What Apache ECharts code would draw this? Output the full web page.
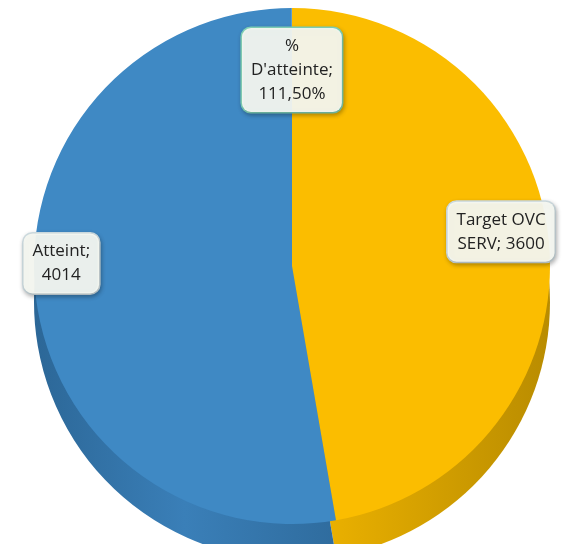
<!DOCTYPE html>
<html>
<head>
<meta charset="utf-8">
<script src="https://cdn.jsdelivr.net/npm/echarts@6/dist/echarts.min.js"></script>
<style>
  html, body { margin: 0; padding: 0; background: #fff; }
  #chart { width: 570px; height: 544px; }
</style>
</head>
<body>
<div id="chart"></div>
<script>
// données du graphique
const categories = ['Target OVC SERV', 'Atteint', "% D'atteinte"]
const values = [3600, 4014, 1.115]

const topColors = ['#fbbd00', '#3f89c4', '#3f89c4']
const sideColors = [
  new echarts.graphic.LinearGradient(0, 0, 1, 0, [
    { offset: 0, color: '#f2b600' }, { offset: 1, color: '#b98c00' }
  ]),
  new echarts.graphic.LinearGradient(0, 0, 1, 0, [
    { offset: 0, color: '#2c6797' }, { offset: 0.5, color: '#3a7fb8' }, { offset: 1, color: '#2f6c9e' }
  ]),
  '#2f6c9e'
]

const cx = 292, cy = 266, R = 258
// facteur radial + décalage pour placer les étiquettes
const labelFactor = [1.62, 1.8, 1.5]
const labelShift = [[-4, -16], [6, -23], [0, 2]]

function fmt(name, v) {
  if (name.charAt(0) === '%') {
    return '%\nD\'atteinte;\n' + (v * 100).toFixed(2).replace('.', ',') + '%'
  }
  if (name === 'Target OVC SERV') return 'Target OVC\nSERV; ' + v
  return name + ';\n' + v
}

const chart = echarts.init(document.getElementById('chart'))

chart.setOption({
  backgroundColor: '#fff',
  animation: false,
  series: [
    {
      // épaisseur (côté du camembert)
      type: 'pie',
      silent: true,
      startAngle: 90,
      clockwise: true,
      center: [cx, cy + 36],
      radius: R,
      label: { show: false },
      labelLine: { show: false },
      data: categories.map((c, i) => ({
        name: c,
        value: values[i],
        itemStyle: { color: sideColors[i] }
      }))
    },
    {
      type: 'pie',
      startAngle: 90,
      clockwise: true,
      center: [cx, cy],
      radius: R,
      itemStyle: { borderWidth: 0 },
      label: {
        show: true,
        position: 'inside',
        align: 'center',
        verticalAlign: 'middle',
        formatter: p => fmt(p.name, p.value),
        fontFamily: 'Open Sans',
        fontSize: 17,
        lineHeight: 24,
        color: '#222',
        backgroundColor: 'rgba(245,248,241,0.94)',
        borderColor: '#cfdde2',
        borderWidth: 1.5,
        borderRadius: 9,
        padding: [6, 9],
        shadowColor: 'rgba(0,0,0,0.25)',
        shadowBlur: 4,
        shadowOffsetX: 1,
        shadowOffsetY: 2
      },
      labelLine: { show: false },
      labelLayout: function (params) {
        const r = params.labelRect
        const lx = r.x + r.width / 2
        const ly = r.y + r.height / 2
        const k = labelFactor[params.dataIndex]
        const s = labelShift[params.dataIndex]
        return {
          x: cx + (lx - cx) * k + s[0],
          y: cy + (ly - cy) * k + s[1],
          align: 'center',
          verticalAlign: 'middle'
        }
      },
      data: categories.map((c, i) => ({
        name: c,
        value: values[i],
        itemStyle: { color: topColors[i] },
        label: i === 2 ? { borderColor: '#7fd2b8' } : {}
      }))
    }
  ]
})

window.addEventListener('resize', () => chart.resize())
</script>
</body>
</html>
